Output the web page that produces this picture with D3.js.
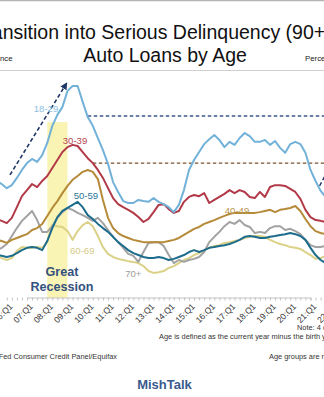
<!DOCTYPE html>
<html>
<head>
<meta charset="utf-8">
<script src="https://cdn.jsdelivr.net/npm/d3@7"></script>
<style>
  html, body { margin: 0; padding: 0; background: #fff; overflow: hidden; }
  svg { display: block; font-family: "Liberation Sans", Arial, sans-serif; }
</style>
</head>
<body>
<svg id="chart" width="324" height="397"></svg>
<script>
// Quarterly series, starting 2005 Q2 (percent of balance)
const firstYear = 2005, firstQuarter = 2;

const age18_29 = [3.05,3.08,3.00,2.89,2.97,3.16,3.37,3.55,3.66,3.58,3.76,4.08,4.53,4.82,5.03,5.45,5.58,5.58,5.16,4.76,
  4.53,4.21,3.89,3.53,3.05,2.79,2.55,2.50,2.50,2.58,2.55,2.53,2.63,2.53,2.47,2.39,2.26,2.45,2.84,3.37,
  3.63,3.84,4.05,4.18,4.29,4.16,3.97,4.11,4.03,4.21,4.34,4.26,4.11,4.11,4.16,4.03,4.13,3.95,3.82,4.05,
  4.11,4.05,3.82,3.37,3.08,2.82,2.66];
const age30_39 = [2.05,2.08,2.03,1.97,2.11,2.39,2.68,2.84,3.00,2.92,3.08,3.21,3.42,3.63,3.84,3.97,4.03,4.00,3.84,3.68,
  3.55,3.37,3.16,2.89,2.63,2.47,2.39,2.32,2.24,2.13,2.00,2.08,2.26,2.45,2.47,2.34,2.24,2.29,2.53,2.66,
  2.71,2.68,2.76,2.50,2.58,2.66,2.74,2.84,2.76,2.84,2.79,2.66,2.63,2.79,2.66,2.92,2.97,2.97,2.95,2.87,
  2.79,2.61,2.32,2.13,2.05,2.03,2.00];
const age40_49 = [1.53,1.53,1.50,1.45,1.53,1.58,1.63,1.68,1.79,1.84,1.95,2.16,2.37,2.55,2.76,2.95,3.11,3.21,3.32,3.37,
  3.32,3.13,2.58,2.11,1.84,1.71,1.63,1.58,1.53,1.50,1.47,1.47,1.47,1.47,1.47,1.50,1.53,1.58,1.66,1.74,
  1.82,1.87,1.95,2.00,2.05,2.11,2.16,2.21,2.24,2.24,2.24,2.24,2.24,2.26,2.29,2.32,2.26,2.32,2.34,2.37,
  2.42,2.29,2.08,1.89,1.76,1.71,1.68];
const age50_59 = [1.16,1.13,1.11,1.08,1.11,1.18,1.26,1.32,1.34,1.32,1.26,1.50,1.84,2.13,2.29,2.37,2.45,2.53,2.39,2.18,
  2.08,1.95,1.84,1.74,1.61,1.47,1.37,1.26,1.18,1.13,1.08,1.05,1.05,1.08,1.05,1.00,1.03,1.08,1.13,1.21,
  1.26,1.21,1.26,1.32,1.34,1.37,1.39,1.42,1.47,1.53,1.61,1.63,1.61,1.58,1.58,1.61,1.63,1.66,1.68,1.71,
  1.68,1.63,1.53,1.32,1.13,1.00,0.92];
const age60_69 = [1.13,1.11,1.05,1.00,1.05,1.24,1.34,1.32,1.32,1.34,1.32,1.47,1.92,1.89,1.87,1.76,1.53,1.76,1.92,2.00,
  1.89,1.63,1.34,1.16,1.08,1.03,1.00,0.97,0.95,0.92,0.84,0.71,0.66,0.68,0.71,0.79,0.84,0.92,1.00,1.05,
  1.13,1.18,1.26,1.32,1.37,1.39,1.45,1.47,1.50,1.53,1.58,1.61,1.63,1.63,1.61,1.53,1.47,1.42,1.39,1.34,
  1.32,1.29,1.21,1.13,1.03,1.05,1.11];
const age70plus = [1.21,1.26,1.32,1.42,1.63,1.84,2.03,2.16,2.29,2.05,1.74,1.74,1.89,2.11,2.26,2.37,2.32,2.24,2.18,2.11,
  2.03,2.11,1.97,1.79,1.61,1.47,1.32,1.16,1.11,0.95,1.21,1.45,1.47,1.47,1.37,1.13,0.92,1.00,0.95,1.00,
  1.03,1.08,1.21,1.47,1.61,1.74,1.89,2.00,1.95,2.05,1.92,1.87,1.71,1.74,1.71,1.84,1.89,1.89,1.79,1.82,
  1.76,1.68,1.53,1.39,1.34,1.34,1.37];

const seriesNames = ["18-29", "30-39", "40-49", "50-59", "60-69", "70+"];
const tickYears = [2006,2007,2008,2009,2010,2011,2012,2013,2014,2015,2016,2017,2018,2019,2020,2021,2022];
const recession = [2008.0, 2009.0];
const recessionTop = 4.63;
// Dashed reference levels for the two youngest groups
const refLevels = [4.79, 3.55];
const refStarts = [2010.0, 2010.25];
// Dashed trend arrow (year, percent)
const trendArrow = [[2006.16, 3.24], [2008.93, 5.63]];
const exitArrow = [[2021.45, 2.95], [2021.8, 3.3]];

const svg = d3.select("#chart");
const W = 324, H = 397;

const x = d3.scaleLinear().domain([2007, 2021]).range([27, 310.5]);
const y = d3.scaleLinear().domain([0, 6]).range([298, 70]);
const timeOf = i => firstYear + (firstQuarter - 1) / 4 + i / 4;

// frame lines
svg.append("line").attr("x1", 0).attr("x2", W).attr("y1", 0.5).attr("y2", 0.5)
  .attr("stroke", "#b4b4b4").attr("stroke-width", 1.5);
svg.append("line").attr("x1", 0).attr("x2", W).attr("y1", 70.5).attr("y2", 70.5)
  .attr("stroke", "#cfcfcf").attr("stroke-width", 1);

// titles
const title = svg.append("g").attr("fill", "#111").attr("font-size", 19.5).attr("text-anchor", "middle");
title.append("text").attr("x", 167).attr("y", 39).text("Transition into Serious Delinquency (90+) for");
title.append("text").attr("x", 165).attr("y", 62).text("Auto Loans by Age");
svg.append("text").attr("x", 12.5).attr("y", 61).attr("text-anchor", "end")
  .attr("font-size", 7.8).attr("fill", "#222").text("Percent of Balance");
svg.append("text").attr("x", 305).attr("y", 61).attr("text-anchor", "start")
  .attr("font-size", 7.8).attr("fill", "#222").text("Percent of Balance");

// recession shading
svg.append("rect")
  .attr("x", x(recession[0])).attr("width", x(recession[1]) - x(recession[0]))
  .attr("y", y(recessionTop)).attr("height", y(0) - y(recessionTop))
  .attr("fill", "#f8f2a6").attr("opacity", 0.85);

// x axis with quarterly minor ticks
const quarterTicks = d3.range(tickYears[0] * 4, tickYears[tickYears.length - 1] * 4 + 1).map(v => v / 4);
const minor = svg.append("g").attr("transform", `translate(0,${y(0) - 0.5})`)
  .call(d3.axisBottom(x).tickValues(quarterTicks).tickSize(3).tickFormat(""));
minor.select(".domain").attr("stroke", "#c4c4c4");
minor.selectAll(".tick line").attr("stroke", "#c4c4c4");

const major = svg.append("g").attr("transform", `translate(0,${y(0) - 0.5})`)
  .call(d3.axisBottom(x).tickValues(tickYears).tickSize(0)
    .tickFormat(d => String(d % 100).padStart(2, "0") + ":Q1"));
major.select(".domain").remove();
major.selectAll(".tick text")
  .attr("font-family", "Liberation Sans, Arial, sans-serif")
  .attr("font-size", 8.6).attr("fill", "#333")
  .attr("x", 0).attr("y", 0).attr("dy", 0)
  .attr("text-anchor", "end")
  .attr("transform", "translate(6,9.5) rotate(-45)");

// reference dashed levels
const refColors = ["#3b5787", "#7a5330"];
refLevels.forEach((v, k) => {
  svg.append("line")
    .attr("x1", x(refStarts[k])).attr("x2", W + 5)
    .attr("y1", y(v)).attr("y2", y(v))
    .attr("stroke", refColors[k]).attr("stroke-width", 1.4)
    .attr("stroke-dasharray", "3.5,2.5");
});

// series lines
const allSeries = [age18_29, age30_39, age40_49, age50_59, age60_69, age70plus];
const lineColors = ["#72b2d9", "#b23a48", "#b58a38", "#1e6c8c", "#dbd187", "#a2a2a2"];
const drawOrder = [4, 5, 3, 2, 1, 0];
const line = d3.line().x((d, i) => x(timeOf(i))).y(d => y(d)).curve(d3.curveLinear);
drawOrder.forEach(k => {
  svg.append("path").datum(allSeries[k])
    .attr("fill", "none").attr("stroke", lineColors[k])
    .attr("stroke-width", 2).attr("stroke-linejoin", "round")
    .attr("d", line);
});

// trend arrows
const defs = svg.append("defs");
defs.append("marker").attr("id", "head").attr("viewBox", "0 0 10 10")
  .attr("refX", 7).attr("refY", 5).attr("markerWidth", 4.5).attr("markerHeight", 4.5)
  .attr("orient", "auto")
  .append("path").attr("d", "M0,0 L10,5 L0,10 Z").attr("fill", "#1f3766");
svg.append("line")
  .attr("x1", x(trendArrow[0][0])).attr("y1", y(trendArrow[0][1]))
  .attr("x2", x(trendArrow[1][0])).attr("y2", y(trendArrow[1][1]))
  .attr("stroke", "#1f3766").attr("stroke-width", 1.6)
  .attr("stroke-dasharray", "4,2.5").attr("marker-end", "url(#head)");
svg.append("line")
  .attr("x1", x(exitArrow[0][0])).attr("y1", y(exitArrow[0][1]))
  .attr("x2", x(exitArrow[1][0])).attr("y2", y(exitArrow[1][1]))
  .attr("stroke", "#1f3766").attr("stroke-width", 1.4)
  .attr("stroke-dasharray", "4,2.5");

// series labels
const labelPos = [[2007.94, 4.89], [2009.37, 4.06], [2017.37, 2.21], [2009.91, 2.61], [2009.73, 1.16], [2012.25, 0.55]];
const labelColors = ["#8cc0e2", "#b5454f", "#b9964e", "#2a7797", "#d6cc8a", "#9d9d9d"];
seriesNames.forEach((name, k) => {
  svg.append("text")
    .attr("x", x(labelPos[k][0])).attr("y", y(labelPos[k][1]))
    .attr("text-anchor", "middle").attr("font-size", 9.6)
    .attr("fill", labelColors[k]).text(name);
});

// recession label
const rec = svg.append("g").attr("fill", "#34507e").attr("font-weight", "bold")
  .attr("font-size", 12.6).attr("text-anchor", "middle");
rec.append("text").attr("x", 62).attr("y", 275.5).text("Great");
rec.append("text").attr("x", 62).attr("y", 290.5).text("Recession");

// notes and source
const notes = svg.append("g").attr("fill", "#333").attr("font-size", 7.4);
notes.append("text").attr("x", 297).attr("y", 330).text("Note: 4 quarter moving sum");
notes.append("text").attr("x", 159).attr("y", 338.5).text("Age is defined as the current year minus the birth year.");
notes.append("text").attr("x", 117).attr("y", 359).attr("text-anchor", "end")
  .text("Source: New York Fed Consumer Credit Panel/Equifax");
notes.append("text").attr("x", 269).attr("y", 359).text("Age groups are re-ranked each quarter.");

svg.append("text").attr("x", 164.5).attr("y", 389).attr("text-anchor", "middle")
  .attr("font-weight", "bold").attr("font-size", 13).attr("fill", "#3a5a8e").text("MishTalk");
</script>
</body>
</html>
